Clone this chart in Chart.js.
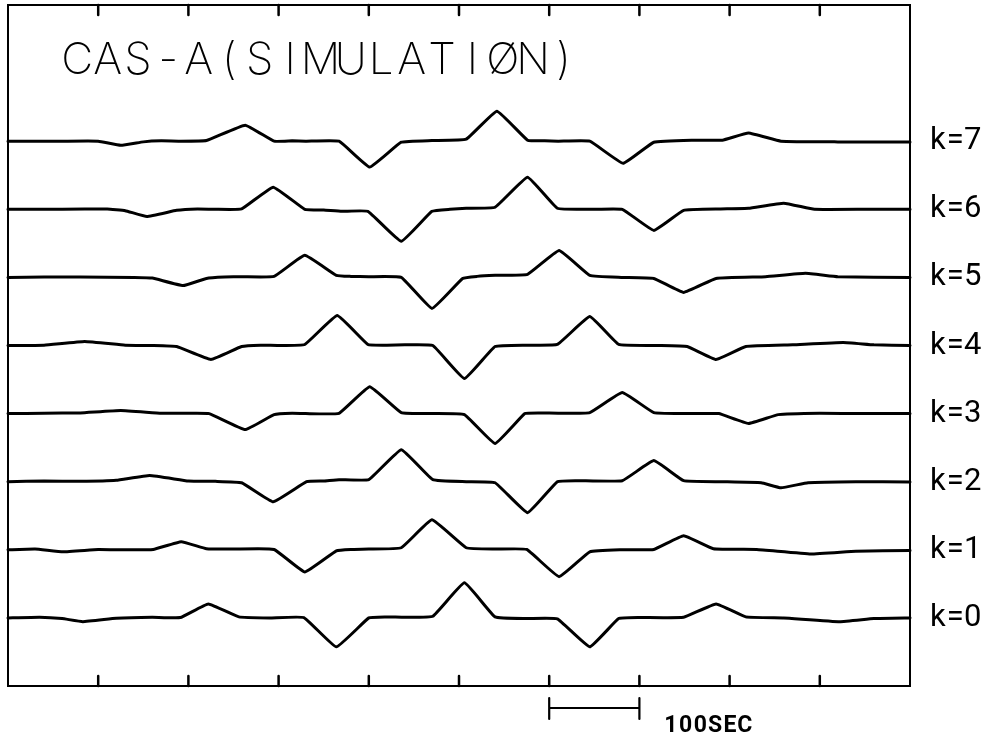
<!DOCTYPE html>
<html>
<head>
<meta charset="utf-8">
<script src="https://cdn.jsdelivr.net/npm/chart.js@4.4.1/dist/chart.umd.min.js"></script>
<style>
  html, body { margin: 0; padding: 0; background: #fff; }
  #wrap { width: 985px; height: 738px; }
</style>
</head>
<body>
<div id="wrap"><canvas id="c"></canvas></div>
<script>
// Stacked simulated traces, one per k. Time in seconds, amplitude in units
// where 10 = the gap between two traces.
var TITLE = "CAS-A(SIMULATIØN)";
var LABELS = ["k=0", "k=1", "k=2", "k=3", "k=4", "k=5", "k=6", "k=7"];
var TICKS = [100, 200, 300, 400, 500, 600, 700, 800, 900];
var SCALE_BAR = [600, 700];
var SCALE_TEXT = "100SEC";

var K0 = [[0,0],[35,0.1],[60,-0.1],[83,-0.55],[120,-0.05],[160,0.1],[191,0.05],[222,2.05],[256,0.15],[290,0],[328,0.05],[364,-4.25],[400,0],[418,0.15],[440,0.1],[471,0.25],[506,5.15],[540,0.15],[575,-0.1],[609,-0.15],[645,-4.25],[677,-0.1],[700,0.05],[749,0.1],[785,2.05],[818,0.15],[860,0],[922,-0.55],[960,-0.1],[1000,0]];
var K1 = [[0,0],[30,0.1],[61,-0.3],[100,0.05],[130,0],[161,0.05],[192,1.2],[220,0.15],[250,0.1],[295,0.05],[329,-3.25],[364,-0.15],[380,0.05],[400,0.1],[436,0.3],[470,4.4],[508,0.3],[540,0.1],[575,0.05],[611,-3.95],[645,-0.3],[680,0],[716,0.05],[749,2.05],[782,0.15],[830,0.05],[890,-0.6],[940,-0.2],[1000,-0.1]];
var K2 = [[0,0],[40,0.1],[80,0.05],[120,0.2],[157,0.9],[200,0.1],[230,0.05],[259,-0.15],[294,-2.95],[331,0],[350,0.1],[367,0.3],[400,0.3],[436,4.7],[471,0.3],[508,0],[540,-0.15],[576,-4.55],[609,0],[630,0.15],[681,0.15],[716,3.1],[749,0.15],[790,0],[835,-0.15],[857,-0.9],[887,-0.15],[940,0],[1000,-0.05]];
var K3 = [[0,0],[40,0.05],[80,0.1],[125,0.45],[170,0.05],[200,0.05],[223,0],[263,-2.35],[295,-0.15],[315,0.05],[330,0],[367,0.05],[401,3.95],[436,0.15],[470,0],[506,-0.15],[540,-4.4],[573,0],[590,0.1],[610,0.05],[645,0.15],[681,3.1],[716,0.15],[760,0],[788,0],[821,-1.45],[854,-0.15],[900,0.05],[950,0],[1000,0]];
var K4 = [[0,0],[40,0.05],[85,0.6],[130,0.05],[160,0],[187,-0.15],[225,-2.05],[259,-0.15],[280,0.05],[300,0],[329,0.15],[365,4.4],[399,0.15],[420,0.05],[440,0.1],[471,0],[506,-4.85],[540,-0.15],[575,0.05],[609,0.15],[645,4.25],[677,0.15],[720,0],[753,-0.15],[785,-2.05],[818,-0.15],[870,0.1],[926,0.45],[960,0.1],[1000,0]];
var K5 = [[0,0],[40,0.05],[80,0.05],[140,0],[160,-0.1],[194,-1.2],[220,-0.15],[240,0.05],[260,0.1],[295,0.15],[329,3.25],[364,0.3],[380,0.15],[400,0.1],[436,0],[470,-4.55],[504,-0.15],[520,0.15],[540,0.3],[576,0.45],[611,3.95],[645,0.3],[680,0],[716,-0.15],[749,-2.2],[785,-0.15],[840,0.1],[884,0.6],[920,0.1],[1000,0]];
var K6 = [[0,0],[60,0],[110,0.05],[130,-0.2],[154,-1.05],[187,-0.15],[210,0.05],[230,0],[259,0.05],[294,3.25],[329,0],[350,-0.1],[370,-0.3],[399,-0.3],[436,-4.7],[470,-0.3],[490,0],[508,0.15],[540,0.3],[576,4.7],[609,0.15],[645,0],[681,0],[716,-3.1],[749,-0.15],[790,0.05],[821,0.15],[860,0.9],[894,0],[950,0],[1000,0]];
var K7 = [[0,0],[60,0],[100,0],[125,-0.6],[150,-0.1],[170,0.05],[190,0],[220,0.1],[263,2.35],[295,0],[315,0.05],[330,0],[367,0],[401,-3.8],[436,-0.15],[470,0.1],[508,0.3],[542,4.4],[576,0.15],[595,0.05],[610,0],[645,0],[682,-3.25],[716,-0.15],[760,0.15],[792,0.15],[821,1.2],[857,0],[920,-0.1],[1000,-0.1]];

var TRACES = [K0, K1, K2, K3, K4, K5, K6, K7];
var GAP = 10;

var datasets = TRACES.map(function (tr, k) {
  return {
    label: LABELS[k],
    data: tr.map(function (p) { return { x: p[0], y: GAP * (k + 1) + p[1] }; }),
    borderColor: "#000", borderWidth: 3, pointRadius: 0, tension: 0.1,
    borderJoinStyle: "round", borderCapStyle: "round", clip: false
  };
});

// draw a string one glyph per fixed-width cell (plotter lettering)
function cells(ctx, s, x, y, w) {
  for (var i = 0; i < s.length; i++) ctx.fillText(s[i], x + w * (i + 0.5), y);
}

// frame, inward ticks, title, k labels and the 100 s scale bar
var decor = {
  id: "decor",
  afterDatasetsDraw: function (chart) {
    var ctx = chart.ctx, a = chart.chartArea, x = chart.scales.x, y = chart.scales.y;
    ctx.save();
    ctx.strokeStyle = "#000"; ctx.fillStyle = "#000";
    ctx.lineWidth = 2; ctx.lineCap = "round";
    ctx.strokeRect(a.left, a.top, a.right - a.left, a.bottom - a.top);
    ctx.lineWidth = 2.5;
    TICKS.forEach(function (t) {
      var px = x.getPixelForValue(t);
      ctx.beginPath();
      ctx.moveTo(px, a.top); ctx.lineTo(px, a.top + 10);
      ctx.moveTo(px, a.bottom); ctx.lineTo(px, a.bottom - 10);
      ctx.stroke();
    });

    ctx.textAlign = "center";
    ctx.textBaseline = "alphabetic";
    ctx.font = '250 44px Inter, "DejaVu Sans"';
    cells(ctx, TITLE, a.left + 54, a.top + 69, 30.4);

    ctx.font = '31px Roboto, "DejaVu Sans"';
    LABELS.forEach(function (lab, k) {
      cells(ctx, lab, a.right + 19, y.getPixelForValue(GAP * (k + 1)) + 8, 17.5);
    });

    var x0 = x.getPixelForValue(SCALE_BAR[0]), x1 = x.getPixelForValue(SCALE_BAR[1]);
    var yb = a.bottom + 22;
    ctx.lineWidth = 2.2;
    ctx.beginPath();
    ctx.moveTo(x0, yb); ctx.lineTo(x1, yb);
    ctx.moveTo(x0, yb - 10); ctx.lineTo(x0, yb + 11);
    ctx.moveTo(x1, yb - 10); ctx.lineTo(x1, yb + 11);
    ctx.stroke();
    ctx.font = 'bold 23px Roboto, "DejaVu Sans"';
    cells(ctx, SCALE_TEXT, x1 + 24, a.bottom + 46, 14.8);
    ctx.restore();
  }
};

new Chart(document.getElementById("c"), {
  type: "line",
  data: { datasets: datasets },
  plugins: [decor],
  options: {
    responsive: true, maintainAspectRatio: false, animation: false,
    layout: { padding: { left: 8, right: 75, top: 5, bottom: 52 } },
    plugins: { legend: { display: false }, tooltip: { enabled: false } },
    scales: {
      x: { type: "linear", min: 0, max: 1000, display: false },
      y: { min: 0, max: 100, display: false }
    }
  }
});
</script>
</body>
</html>
